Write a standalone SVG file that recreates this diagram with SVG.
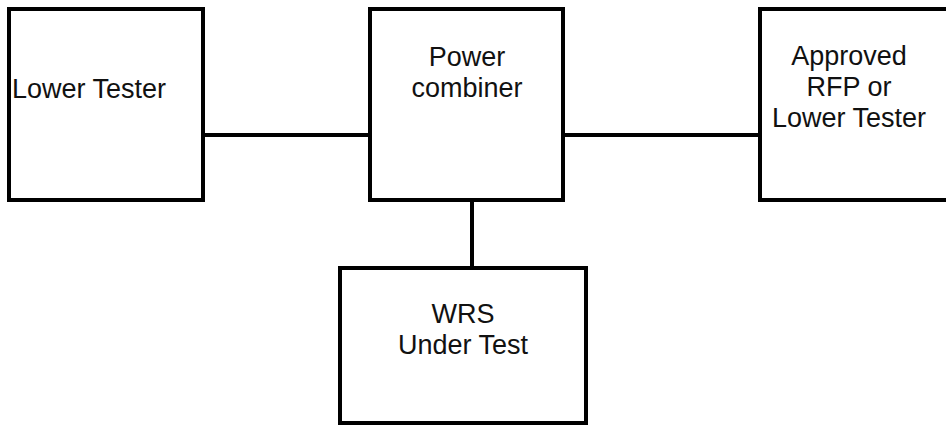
<svg xmlns="http://www.w3.org/2000/svg" width="946" height="425" viewBox="0 0 946 425">
<style>
.box{fill:#fff;stroke:#000;stroke-width:4}
.conn{stroke:#000;stroke-width:4;fill:none}
text{font-family:"Liberation Sans",Arial,sans-serif;font-size:27px;fill:#111}
</style>
<rect width="946" height="425" fill="#fff"/>
<g id="connectors">
<line class="conn" x1="203" y1="135" x2="370" y2="135"/>
<line class="conn" x1="563" y1="135" x2="760" y2="135"/>
<line class="conn" x1="472" y1="200" x2="472" y2="268"/>
</g>
<g id="lower-tester">
<rect class="box" x="9" y="9" width="194" height="191"/>
<text x="12" y="98">Lower Tester</text>
</g>
<g id="power-combiner">
<rect class="box" x="370" y="9" width="193" height="191"/>
<text x="467" y="66" text-anchor="middle">Power</text>
<text x="467" y="97" text-anchor="middle">combiner</text>
</g>
<g id="approved-rfp">
<rect class="box" x="760" y="9" width="200" height="191"/>
<text x="849" y="65" text-anchor="middle">Approved</text>
<text x="849" y="96" text-anchor="middle">RFP or</text>
<text x="849" y="127" text-anchor="middle">Lower Tester</text>
</g>
<g id="wrs-under-test">
<rect class="box" x="340" y="268" width="246" height="155"/>
<text x="463" y="323" text-anchor="middle">WRS</text>
<text x="463" y="354" text-anchor="middle">Under Test</text>
</g>
</svg>
